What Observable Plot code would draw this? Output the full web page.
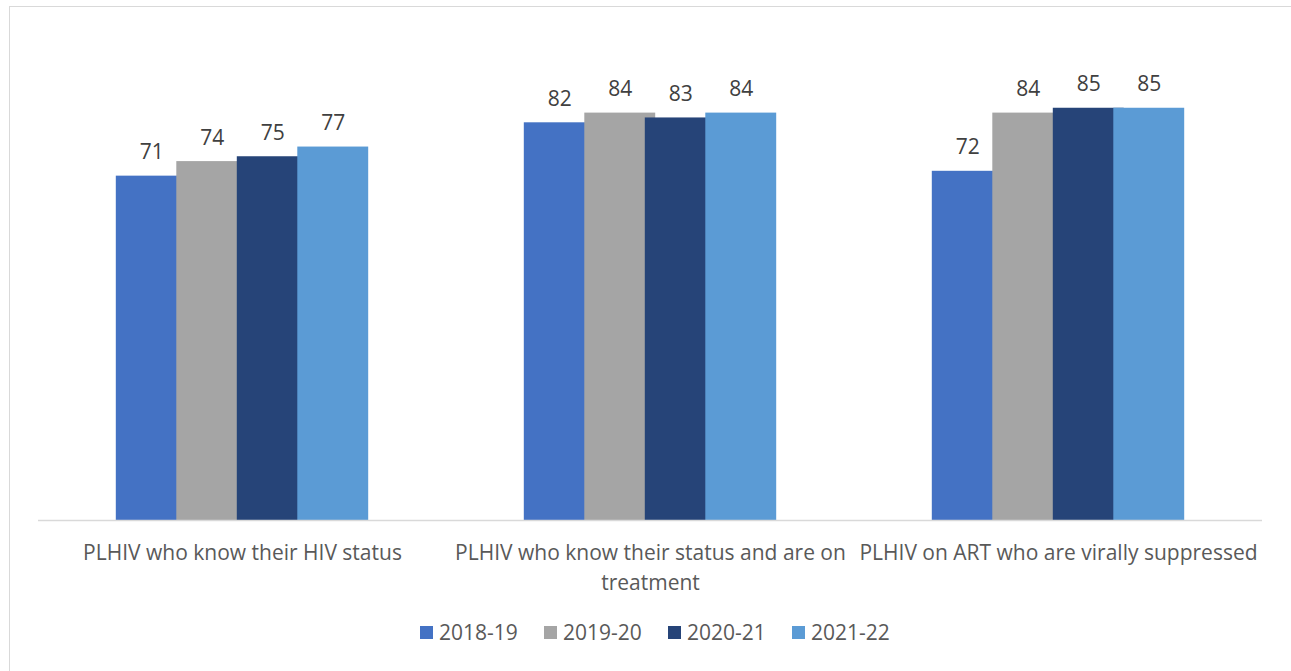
<!DOCTYPE html>
<html>
<head>
<meta charset="utf-8">
<script src="https://cdn.jsdelivr.net/npm/d3@7"></script>
<script src="https://cdn.jsdelivr.net/npm/@observablehq/plot@0.6"></script>
<style>
  html, body { margin: 0; padding: 0; background: #fff; overflow: hidden; }
  body { width: 1291px; height: 671px; position: relative; font-family: "Open Sans", sans-serif; }
  #frame { position: absolute; left: 9px; top: 6px; width: 1300px; height: 700px; border: 1.5px solid #d9d9d9; box-sizing: border-box; }
  #chart { position: absolute; left: 0; top: 0; }
  #legend { position: absolute; left: 420px; top: 618px; display: flex; font-size: 21px; color: #595959; }
  .item { display: flex; align-items: center; width: 124px; }
  .sw { width: 13px; height: 13px; margin-right: 6px; }
</style>
</head>
<body>
<div id="frame"></div>
<div id="chart"></div>
<div id="legend"></div>
<script>
const categories = [
  "PLHIV who know their HIV status",
  "PLHIV who know their status and are on treatment",
  "PLHIV on ART who are virally suppressed"
];
const categoryLabels = [
  "PLHIV who know their HIV status",
  "PLHIV who know their status and are on\ntreatment",
  "PLHIV on ART who are virally suppressed"
];
const seriesNames = ["2018-19", "2019-20", "2020-21", "2021-22"];
const seriesColors = ["#4472C4", "#A5A5A5", "#264478", "#5B9BD5"];
const values2018_19 = [71, 82, 72];
const values2019_20 = [74, 84, 84];
const values2020_21 = [75, 83, 85];
const values2021_22 = [77, 84, 85];

const seriesValues = [values2018_19, values2019_20, values2020_21, values2021_22];
const data = [];
categories.forEach((c, ci) => {
  seriesNames.forEach((s, si) => {
    data.push({category: c, series: s, s: si, value: seriesValues[si][ci]});
  });
});
const labelData = categories.map((c, i) => ({category: c, label: categoryLabels[i]}));

const half = 0.586;
const chart = Plot.plot({
  width: 1291,
  height: 620,
  marginLeft: 37,
  marginRight: 28,
  marginTop: 35,
  marginBottom: 100,
  style: {fontFamily: "Open Sans, sans-serif", background: "transparent"},
  fx: {domain: categories, padding: 0, axis: null},
  x: {domain: [1.5 - 3.372, 1.5 + 3.372], axis: null},
  y: {domain: [0, 100], axis: null},
  color: {domain: seriesNames, range: seriesColors},
  marks: [
    Plot.rectY(data, {fx: "category", x1: d => d.s - half, x2: d => d.s + half, y: "value", fill: "series"}),
    Plot.ruleY([0], {stroke: "#d9d9d9", strokeWidth: 1.5}),
    Plot.text(data, {fx: "category", x: "s", y: "value", text: d => String(d.value), lineAnchor: "bottom", dy: -17, fontSize: 21, fill: "#404040"}),
    Plot.text(labelData, {fx: "category", text: "label", frameAnchor: "bottom", lineAnchor: "top", dy: 18, lineHeight: 1.43, fontSize: 21, fill: "#595959"})
  ]
});
document.getElementById("chart").appendChild(chart);

const legend = document.getElementById("legend");
seriesNames.forEach((s, i) => {
  const item = document.createElement("div");
  item.className = "item";
  const sw = document.createElement("div");
  sw.className = "sw";
  sw.style.background = seriesColors[i];
  const t = document.createElement("span");
  t.textContent = s;
  item.appendChild(sw);
  item.appendChild(t);
  legend.appendChild(item);
});
</script>
</body>
</html>
